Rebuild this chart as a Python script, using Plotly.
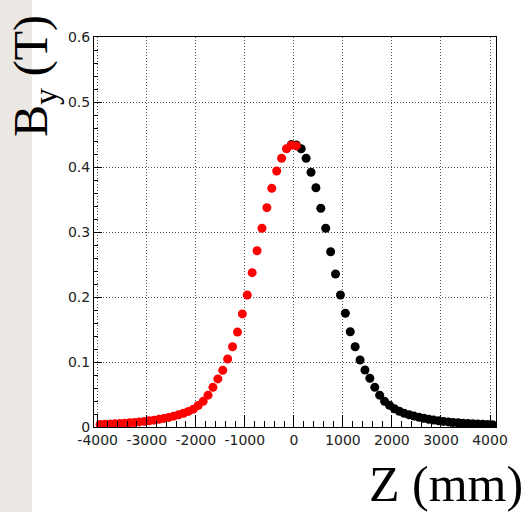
import plotly.graph_objects as go

# ---- data ----
z_red = [-3950, -3850, -3750, -3650, -3550, -3450, -3350, -3250, -3150, -3050,
         -2950, -2850, -2750, -2650, -2550, -2450, -2350, -2250, -2150, -2050,
         -1950, -1850, -1750, -1650, -1550, -1450, -1350, -1250, -1150, -1050,
         -950, -850, -750, -650, -550, -450, -350, -250, -150, -50, 50]
b_red = [0.0039, 0.0042, 0.0045, 0.0049, 0.0053, 0.0058, 0.0064, 0.0070, 0.0078, 0.0086,
         0.0095, 0.0105, 0.0118, 0.0132, 0.0148, 0.0167, 0.0188, 0.0212, 0.0240, 0.0275,
         0.0330, 0.0395, 0.0490, 0.0610, 0.0740, 0.0872, 0.1046, 0.1235, 0.1460, 0.1740,
         0.2030, 0.2374, 0.2712, 0.3057, 0.3374, 0.3672, 0.3938, 0.4134, 0.4280, 0.4335, 0.4325]

z_black = [-50, 50, 150, 250, 350, 450, 550, 650, 750, 850,
           950, 1050, 1150, 1250, 1350, 1450, 1550, 1650, 1750, 1850,
           1950, 2050, 2150, 2250, 2350, 2450, 2550, 2650, 2750, 2850,
           2950, 3050, 3150, 3250, 3350, 3450, 3550, 3650, 3750, 3850,
           3950, 4050]
b_black = [0.4345, 0.4340, 0.4280, 0.4134, 0.3920, 0.3680, 0.3365, 0.3057, 0.2697, 0.2354,
           0.2030, 0.1750, 0.1466, 0.1235, 0.1030, 0.0877, 0.0750, 0.0610, 0.0490, 0.0395,
           0.0335, 0.0280, 0.0242, 0.0210, 0.0188, 0.0168, 0.0150, 0.0134, 0.0120, 0.0106,
           0.0095, 0.0086, 0.0078, 0.0070, 0.0064, 0.0058, 0.0053, 0.0049, 0.0045, 0.0042,
           0.0039, 0.0036]

x_tick_vals = [-4000, -3000, -2000, -1000, 0, 1000, 2000, 3000, 4000]
x_tick_text = ["-4000", "-3000", "-2000", "-1000", "0", "1000", "2000", "3000", "4000"]
y_tick_vals = [0, 0.1, 0.2, 0.3, 0.4, 0.5, 0.6]
y_tick_text = ["0", "0.1", "0.2", "0.3", "0.4", "0.5", "0.6"]

x_title = "Z (mm)"
y_title = "B<sub>y</sub> (T)"

# ---- figure ----
W, H = 524, 512
L, R, T, B = 94, 28, 37, 85
pw, ph = W - L - R, H - T - B

def px_x(p):
    return (p - L) / pw

def px_y(p):
    return (H - B - p) / ph

fig = go.Figure()
fig.add_trace(go.Scatter(x=z_black, y=b_black, mode="markers",
                         marker=dict(color="black", size=9, line=dict(width=0)),
                         showlegend=False))
fig.add_trace(go.Scatter(x=z_red, y=b_red, mode="markers",
                         marker=dict(color="#ff0000", size=9, line=dict(width=0)),
                         showlegend=False))

tickfont = dict(family="DejaVu Sans", size=14, color="#222")
grid = dict(showgrid=True, gridcolor="#555", gridwidth=1, griddash="1px,2px",
            zeroline=False, showline=True, linecolor="black", linewidth=1,
            mirror=True, ticks="inside", tickcolor="black", tickfont=tickfont)

fig.update_xaxes(range=[-4075, 4122], tickvals=x_tick_vals, ticktext=x_tick_text,
                 ticklen=12, minor=dict(dtick=200, ticks="inside", ticklen=6,
                                        tickcolor="black", showgrid=False),
                 **grid)
fig.update_yaxes(range=[0, 0.6], tickvals=y_tick_vals, ticktext=y_tick_text,
                 ticklen=8, minor=dict(dtick=0.02, ticks="inside", ticklen=4,
                                       tickcolor="black", showgrid=False),
                 **grid)

fig.add_shape(type="rect", xref="paper", yref="paper",
              x0=px_x(0), x1=px_x(32), y0=px_y(H), y1=px_y(0),
              fillcolor="#ebe7e3", line=dict(width=0), layer="below")

fig.add_annotation(text=x_title, xref="paper", yref="paper",
                   x=px_x(525), y=px_y(484), xanchor="right", yanchor="middle",
                   showarrow=False,
                   font=dict(family="Liberation Serif", size=50, color="black"))
fig.add_annotation(text=y_title, xref="paper", yref="paper", textangle=-90,
                   x=px_x(2), y=px_y(139), xanchor="left", yanchor="bottom",
                   showarrow=False,
                   font=dict(family="Liberation Serif", size=48, color="black"))

fig.update_layout(width=W, height=H, margin=dict(l=L, r=R, t=T, b=B),
                  paper_bgcolor="white", plot_bgcolor="white")

fig.write_html("out.html")
